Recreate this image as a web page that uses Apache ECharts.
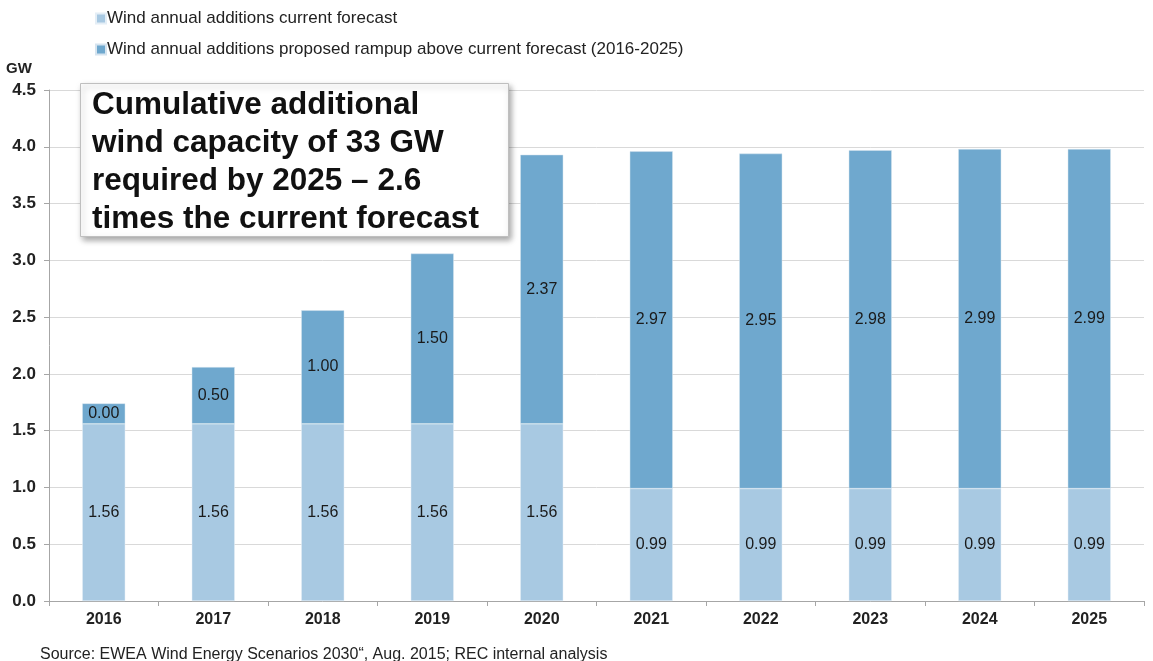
<!DOCTYPE html>
<html>
<head>
<meta charset="utf-8">
<script src="https://cdn.jsdelivr.net/npm/echarts@6/dist/echarts.min.js"></script>
<style>
  html, body { margin: 0; padding: 0; background: #fff; }
  #chart { width: 1153px; height: 661px; }
</style>
</head>
<body>
<div id="chart"></div>
<script>
// years on x axis
const years = ['2016', '2017', '2018', '2019', '2020', '2021', '2022', '2023', '2024', '2025']
// current forecast (GW)
const currentForecast = [1.56, 1.56, 1.56, 1.56, 1.56, 0.99, 0.99, 0.99, 0.99, 0.99]
// proposed rampup above forecast (GW), as drawn
const rampup = [0.18, 0.50, 1.00, 1.50, 2.37, 2.97, 2.95, 2.98, 2.99, 2.99]
// labels printed on the rampup segments
const rampupLabels = ['0.00', '0.50', '1.00', '1.50', '2.37', '2.97', '2.95', '2.98', '2.99', '2.99']
const yTicks = [0, 0.5, 1, 1.5, 2, 2.5, 3, 3.5, 4, 4.5]

const FONT = '"Liberation Sans", Arial, sans-serif'
const LIGHT = '#a8c9e2'
const DARK = '#6fa8ce'

const chart = echarts.init(document.getElementById('chart'))

const labelStyle = {
  show: true,
  position: 'inside',
  color: '#1a1a1a',
  fontFamily: FONT,
  fontSize: 16
}

const option = {
  animation: false,
  textStyle: { fontFamily: FONT },
  legend: {
    orient: 'vertical',
    left: 90,
    top: 5,
    itemGap: 14,
    itemWidth: 10,
    itemHeight: 10,
    icon: 'rect',
    textStyle: { fontSize: 17, color: '#222', fontFamily: FONT, padding: [0, 0, 0, -4] },
    data: [
      'Wind annual additions current forecast',
      'Wind annual additions proposed rampup above current forecast (2016-2025)'
    ]
  },
  grid: { left: 49, right: 9, top: 90, bottom: 60 },
  xAxis: {
    type: 'category',
    data: years,
    axisLine: { lineStyle: { color: '#a6a6a6', width: 1 } },
    axisTick: { show: true, alignWithLabel: false, length: 5, lineStyle: { color: '#a6a6a6' } },
    axisLabel: { color: '#222', fontWeight: 'bold', fontSize: 16, fontFamily: FONT, margin: 11 }
  },
  yAxis: {
    type: 'value',
    min: 0,
    max: 4.5,
    interval: 0.5,
    name: 'GW',
    nameLocation: 'end',
    nameGap: 14,
    nameTextStyle: { color: '#222', fontWeight: 'bold', fontSize: 15, fontFamily: FONT, align: 'left', padding: [0, 0, 0, -43] },
    axisLine: { show: true, lineStyle: { color: '#a6a6a6' } },
    axisTick: { show: true, length: 5, lineStyle: { color: '#a6a6a6' } },
    axisLabel: {
      color: '#222', fontWeight: 'bold', fontSize: 17, fontFamily: FONT, margin: 13,
      formatter: v => yTicks.includes(v) ? v.toFixed(1) : ''
    },
    splitLine: { lineStyle: { color: '#d9d9d9', width: 1 } }
  },
  series: [
    {
      name: 'Wind annual additions current forecast',
      type: 'bar',
      stack: 'wind',
      barWidth: 43,
      data: currentForecast,
      itemStyle: { color: LIGHT, borderColor: '#e4eef6', borderWidth: 0.5 },
      label: { ...labelStyle, formatter: p => p.value.toFixed(2) }
    },
    {
      name: 'Wind annual additions proposed rampup above current forecast (2016-2025)',
      type: 'bar',
      stack: 'wind',
      barWidth: 43,
      data: rampup,
      itemStyle: { color: DARK, borderColor: '#d6e4ef', borderWidth: 0.5 },
      label: { ...labelStyle, formatter: p => rampupLabels[p.dataIndex] }
    }
  ],
  graphic: [
    {
      type: 'rect',
      left: 80,
      top: 83,
      shape: { width: 428, height: 153 },
      style: {
        fill: '#fff',
        stroke: '#bfbfbf',
        lineWidth: 1,
        shadowBlur: 6,
        shadowOffsetX: 2,
        shadowOffsetY: 3,
        shadowColor: 'rgba(0,0,0,0.35)'
      },
      z: 100
    },
    {
      type: 'text',
      left: 92,
      top: 86,
      style: {
        text: 'Cumulative additional\nwind capacity of 33 GW\nrequired by 2025 \u2013 2.6\ntimes the current forecast',
        font: 'bold 31.5px "Liberation Sans", Arial, sans-serif',
        lineHeight: 38,
        fill: '#111'
      },
      z: 101
    },
    {
      type: 'text',
      left: 40,
      top: 647,
      style: {
        text: 'Source: EWEA Wind Energy Scenarios 2030\u201c, Aug. 2015; REC internal analysis',
        font: '16px "Liberation Sans", Arial, sans-serif',
        fill: '#222'
      }
    }
  ]
}

chart.setOption(option)
</script>
</body>
</html>
